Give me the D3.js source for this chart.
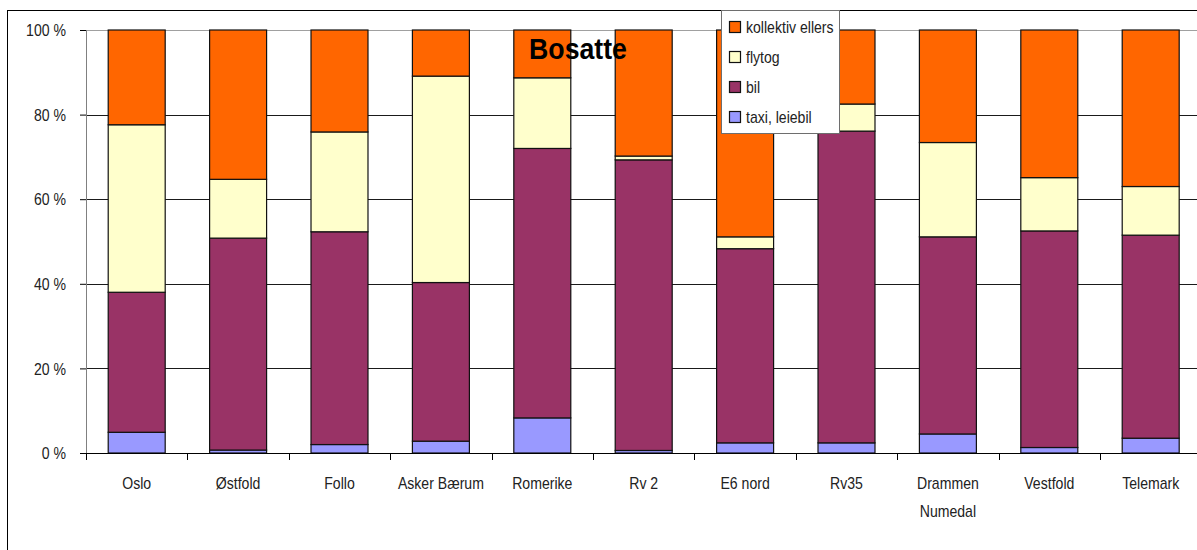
<!DOCTYPE html>
<html>
<head>
<meta charset="utf-8">
<script src="https://cdn.jsdelivr.net/npm/d3@7"></script>
<style>
  html, body { margin: 0; padding: 0; background: #fff; }
  svg { display: block; font-family: "Liberation Sans", Arial, sans-serif; }
</style>
</head>
<body>
<svg id="chart" width="1197" height="550"></svg>
<script>
// Andel reisemåte til Gardermoen, bosatte, per område (prosent)
const categories = ["Oslo", "Østfold", "Follo", "Asker Bærum", "Romerike", "Rv 2", "E6 nord", "Rv35", "Drammen Numedal", "Vestfold", "Telemark"];
const taxi      = [4.9, 0.7, 2.0, 2.8, 8.3, 0.6, 2.4, 2.4, 4.5, 1.3, 3.5];
const bil       = [33.1, 50.1, 50.3, 37.5, 63.7, 68.7, 45.9, 73.7, 46.6, 51.2, 48.0];
const flytog    = [39.6, 13.9, 23.6, 48.8, 16.7, 0.9, 2.8, 6.4, 22.3, 12.6, 11.5];
const kollektiv = [22.4, 35.3, 24.1, 10.9, 11.3, 29.8, 48.9, 17.5, 26.6, 34.9, 37.0];
const seriesNames = ["taxi, leiebil", "bil", "flytog", "kollektiv  ellers"];
const yTicks = [0, 20, 40, 60, 80, 100];
const title = "Bosatte";

const colors = {
  "taxi, leiebil": "#9999ff",
  "bil": "#993366",
  "flytog": "#ffffcc",
  "kollektiv  ellers": "#ff6600"
};

const rows = categories.map((c, i) => ({
  category: c,
  "taxi, leiebil": taxi[i],
  "bil": bil[i],
  "flytog": flytog[i],
  "kollektiv  ellers": kollektiv[i]
}));

const svg = d3.select("#chart");
const plotLeft = 86, plotTop = 30, plotBottom = 453, step = 101.4;
const plotRight = plotLeft + step * categories.length;
const SX = 0.88; // narrow text rendering

// outer chart frame
svg.append("rect")
  .attr("x", 7.5).attr("y", 10.5)
  .attr("width", 1300).attr("height", 700)
  .attr("fill", "#fff").attr("stroke", "#000").attr("stroke-width", 1);

const x = d3.scaleBand().domain(categories).range([plotLeft, plotRight])
  .paddingInner(0.438).paddingOuter(0.219);
const y = d3.scaleLinear().domain([0, 100]).range([plotBottom, plotTop]);

// gridlines
svg.append("g")
  .selectAll("line")
  .data(yTicks.filter(t => t > 0))
  .join("line")
  .attr("x1", plotLeft).attr("x2", plotRight)
  .attr("y1", d => Math.round(y(d)) + 0.5).attr("y2", d => Math.round(y(d)) + 0.5)
  .attr("stroke", d => d === 100 ? "#a0a0a0" : "#1a1a1a")
  .attr("stroke-width", 1);

// stacked bars
const stack = d3.stack().keys(seriesNames)(rows);
svg.append("g")
  .selectAll("g")
  .data(stack)
  .join("g")
  .attr("fill", d => colors[d.key])
  .selectAll("rect")
  .data(d => d)
  .join("rect")
  .attr("x", d => x(d.data.category))
  .attr("width", x.bandwidth())
  .attr("y", d => y(d[1]))
  .attr("height", d => y(d[0]) - y(d[1]))
  .attr("stroke", "#111")
  .attr("stroke-width", 1.2);

// y axis
const yAxis = svg.append("g")
  .attr("transform", `translate(${plotLeft},0)`)
  .call(d3.axisLeft(y).tickValues(yTicks).tickSize(6).tickPadding(0).tickFormat(d => d + " %"));
yAxis.select(".domain").attr("stroke", "#808080").attr("d", `M0.5,${plotTop}V${plotBottom}`);
yAxis.selectAll(".tick line").attr("stroke", "#000");
yAxis.selectAll(".tick text")
  .attr("x", -20 / SX)
  .attr("dy", "0.36em")
  .attr("transform", `scale(${SX},1)`)
  .style("font-size", "16px")
  .attr("fill", "#222");

// x axis: labels centred under bars, ticks at category boundaries
const xAxis = svg.append("g")
  .attr("transform", `translate(0,${plotBottom})`)
  .call(d3.axisBottom(x).tickSize(0).tickPadding(0));
xAxis.select(".domain").attr("stroke", "#000").attr("d", `M${plotLeft},0.5H${plotRight}`);
xAxis.selectAll(".tick text")
  .attr("y", 36).attr("dy", 0)
  .attr("transform", `scale(${SX},1)`)
  .style("font-size", "16px")
  .attr("fill", "#222")
  .each(function(d) {
    const t = d3.select(this);
    const parts = d === "Drammen Numedal" ? ["Drammen", "Numedal"] : [d];
    t.text(null);
    parts.forEach((p, i) => t.append("tspan").attr("x", 0).attr("y", 36 + i * 28).text(p));
  });

const gap = x.step() - x.bandwidth();
const bounds = categories.map(c => x(c) - gap / 2).concat([plotRight]);
svg.append("g")
  .selectAll("line")
  .data(bounds)
  .join("line")
  .attr("x1", d => Math.round(d) + 0.5).attr("x2", d => Math.round(d) + 0.5)
  .attr("y1", plotBottom).attr("y2", plotBottom + 7)
  .attr("stroke", "#000");

// title
svg.append("text")
  .attr("transform", `translate(578,59) scale(0.89,1)`)
  .attr("text-anchor", "middle")
  .style("font-size", "30px")
  .style("font-weight", "bold")
  .attr("fill", "#000")
  .text(title);

// legend
const legend = svg.append("g");
legend.append("rect")
  .attr("x", 721.5).attr("y", 10.5).attr("width", 118).attr("height", 123)
  .attr("fill", "#fff").attr("stroke", "#6e6e6e").attr("stroke-width", 1);
const legendOrder = seriesNames.slice().reverse();
const li = legend.selectAll("g.item")
  .data(legendOrder)
  .join("g")
  .attr("class", "item")
  .attr("transform", (d, i) => `translate(0,${27 + i * 30})`);
li.append("rect")
  .attr("x", 729.5).attr("y", -5.5).attr("width", 11).attr("height", 11)
  .attr("fill", d => colors[d]).attr("stroke", "#111").attr("stroke-width", 1.2);
li.append("text")
  .attr("transform", `translate(746,5.5) scale(${SX},1)`)
  .style("font-size", "16px")
  .attr("fill", "#222")
  .text(d => d);
</script>
</body>
</html>
